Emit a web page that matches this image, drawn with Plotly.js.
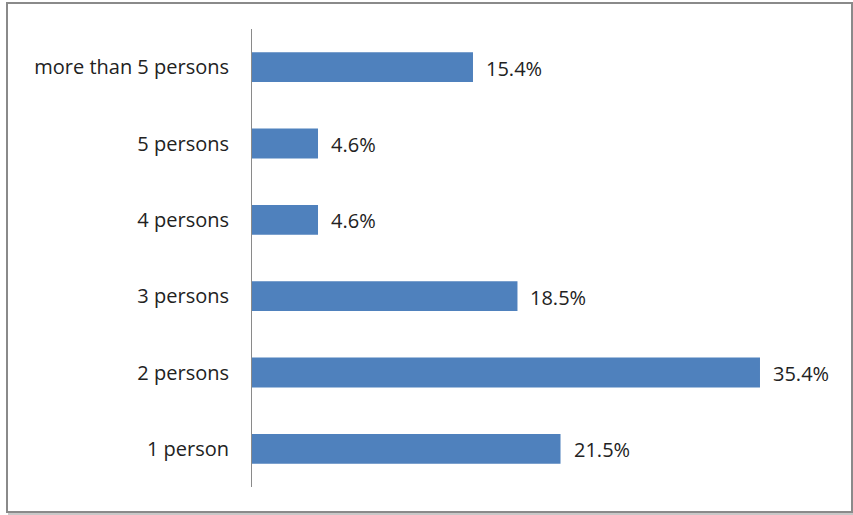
<!DOCTYPE html>
<html><head><meta charset="utf-8">
<script src="https://cdn.plot.ly/plotly-3.0.1.min.js"></script>
<style>
html,body{margin:0;padding:0;background:#fff;}
#wrap{position:relative;width:853px;height:515px;}
#chart{width:853px;height:515px;}
#frame{position:absolute;left:6px;top:2px;width:843px;height:507px;border:2px solid #8a8a8a;box-shadow:2px 2px 0 #c8c8c8;pointer-events:none;}
</style></head>
<body>
<div id="wrap"><div id="chart"></div><div id="frame"></div></div>
<script>
const categories = ["1 person","2 persons","3 persons","4 persons","5 persons","more than 5 persons"];
const values = [21.5, 35.4, 18.5, 4.6, 4.6, 15.4];
const labels = ["21.5%","35.4%","18.5%","4.6%","4.6%","15.4%"];

const font = {family: "Open Sans, Noto Sans, sans-serif", size: 20, color: "#222"};

const trace = {
  type: "bar", orientation: "h",
  y: categories, x: values,
  marker: {color: "#4F81BD"},
  width: 0.39,
  hoverinfo: "none"
};

const annotations = categories.map((c, i) => ({
  x: values[i], y: c, xref: "x", yref: "y",
  text: labels[i], showarrow: false,
  xanchor: "left", yanchor: "middle", xshift: 11, yshift: -1,
  font: font
}));

const layout = {
  width: 853, height: 515,
  margin: {l: 252, r: 27, t: 29, b: 28},
  paper_bgcolor: "#fff", plot_bgcolor: "#fff",
  showlegend: false,
  font: font,
  xaxis: {range: [0, 40], showgrid: false, zeroline: false, showline: false, showticklabels: false, ticks: ""},
  yaxis: {type: "category", categoryorder: "array", categoryarray: categories,
          showline: true, linecolor: "#8a8a8a", linewidth: 1, ticks: "", showgrid: false,
          ticklabelstandoff: 18, tickfont: font},
  annotations: annotations
};

Plotly.newPlot("chart", [trace], layout, {displayModeBar: false, staticPlot: true});
</script>
</body></html>
